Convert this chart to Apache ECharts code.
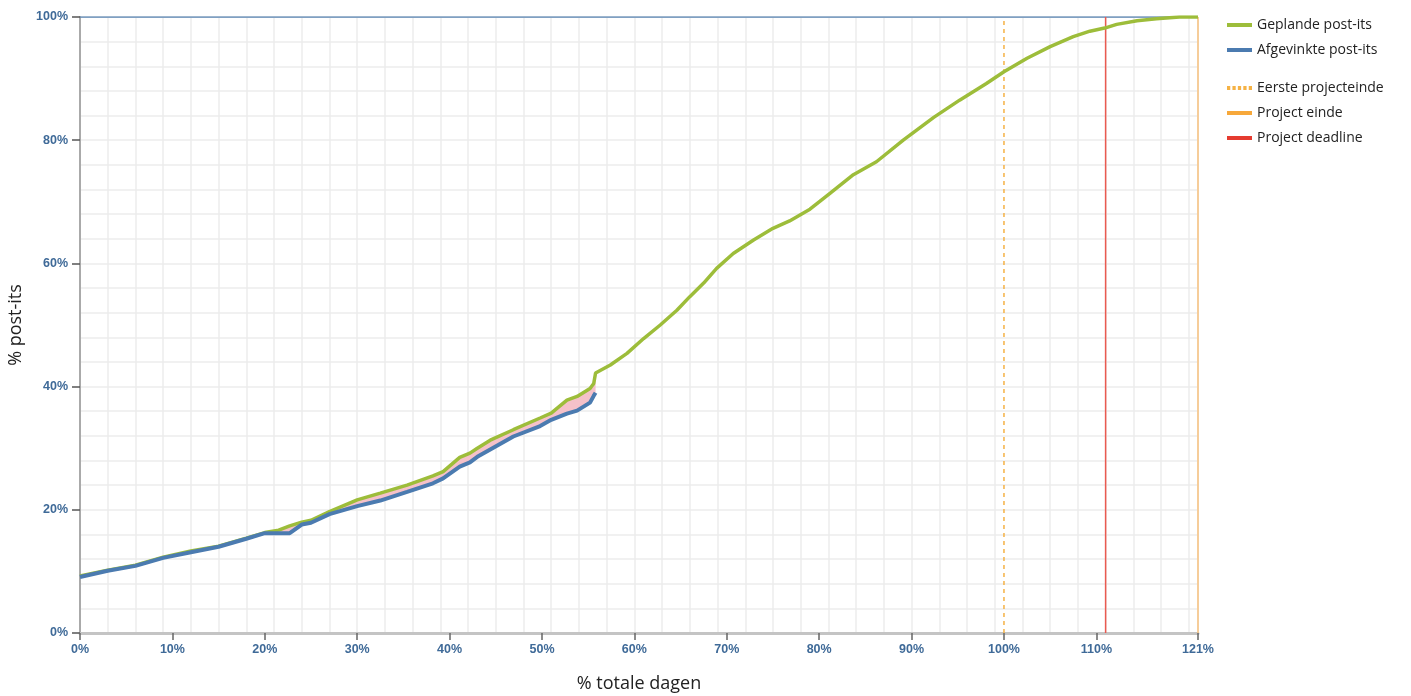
<!DOCTYPE html>
<html>
<head>
<meta charset="utf-8">
<script src="https://cdn.jsdelivr.net/npm/echarts@6/dist/echarts.min.js"></script>
<style>
html,body{margin:0;padding:0;background:#fff;}
#c{width:1411px;height:696px;}
</style>
</head>
<body>
<div id="c"></div>
<script>
// % of total days (x) shared by planned/done where both exist
const daysPct = [0,3,6,9,12,15,18,20,21.5,22.7,24,25,27,30,32.5,35.4,38.2,39.3,41.1,42.2,43,44.4,46.9,49.8,51,52.7,53.8,55.2,55.6,55.8,
  57.4,59.2,61.0,62.8,64.6,66.0,67.5,68.9,70.7,72.9,75.0,76.8,79.0,81.2,83.7,86.2,89.1,92.4,95.2,98.1,100,102.5,105.0,107.5,109.3,110.9,112.2,114.4,116.5,119.0,121];
const plannedPct = [9.25,10.2,11.0,12.3,13.3,14.1,15.4,16.3,16.7,17.4,18.0,18.3,19.7,21.6,22.7,24.0,25.5,26.2,28.5,29.2,30.0,31.3,33.0,34.9,35.7,37.8,38.4,39.7,40.5,42.2,
  43.5,45.4,47.8,50.0,52.4,54.6,56.8,59.2,61.6,63.8,65.7,66.9,68.8,71.4,74.4,76.5,80.0,83.7,86.5,89.2,91.1,93.3,95.2,96.8,97.7,98.2,98.8,99.4,99.7,100,100];
const donePct = [9.1,10.1,10.9,12.2,13.1,14.0,15.3,16.2,16.2,16.2,17.6,17.9,19.3,20.6,21.5,22.9,24.3,25.1,27.0,27.7,28.6,29.8,31.9,33.6,34.6,35.6,36.1,37.4,38.5,39.0];

const firstEndPct = 100;   // Eerste projecteinde
const deadlinePct = 111;   // Project deadline
const endPct = 121;        // Project einde

const xTickValues = [0,10,20,30,40,50,60,70,80,90,100,110,121];
const yTickValues = [0,20,40,60,80,100];

const plannedData = daysPct.map((x,i)=>[x, plannedPct[i]]);
const doneData = donePct.map((v,i)=>[daysPct[i], v]);
const vline = x => [[x,0],[x,100]];

const labelColor = '#3f6a98';
const legendText = {fontFamily:'Open Sans',fontSize:14,color:'#222'};
const barIcon = 'path://M0,0h25v4h-25z';
const dotIcon = 'path://M0,0h3v4h-3zM5,0h3v4h-3zM10,0h3v4h-3zM15,0h3v4h-3zM20,0h3v4h-3z';

const chart = echarts.init(document.getElementById('c'));
chart.setOption({
  animation:false,
  grid:{left:80,right:213,top:17,bottom:63,outerBoundsMode:'none',containLabel:false},
  legend:[{
    orient:'vertical', left:1222, top:13, itemWidth:25, itemHeight:4, itemGap:11,
    symbolKeepAspect:false, textStyle:legendText,
    data:[{name:'Geplande post-its',icon:barIcon},{name:'Afgevinkte post-its',icon:barIcon}]
  },{
    orient:'vertical', left:1222, top:76, itemWidth:25, itemHeight:4, itemGap:11,
    symbolKeepAspect:false, textStyle:legendText,
    data:[
      {name:'Eerste projecteinde',icon:dotIcon},
      {name:'Project einde',icon:barIcon},
      {name:'Project deadline',icon:barIcon}
    ]
  }],
  xAxis:[{
    type:'value', min:0, max:121, interval:3,
    name:'% totale dagen', nameLocation:'middle', nameGap:42,
    nameTextStyle:{fontFamily:'Open Sans',fontSize:18,color:'#222'},
    axisLine:{show:true,lineStyle:{color:'#c4c4c4',width:3}},
    axisTick:{show:true,customValues:xTickValues,length:7,lineStyle:{color:'#666',width:1.5}},
    axisLabel:{customValues:xTickValues,formatter:'{value}%',color:labelColor,fontSize:12.5,fontWeight:'bold',fontFamily:'Liberation Sans',margin:10},
    splitLine:{show:false}
  },{
    type:'value', min:0, max:121, interval:3, position:'top',
    axisLine:{show:false}, axisTick:{show:false}, axisLabel:{show:false},
    splitLine:{show:true,lineStyle:{color:'#ececec',width:1.5}}
  }],
  yAxis:[{
    type:'value', min:0, max:100, interval:4,
    name:'% post-its', nameLocation:'middle', nameGap:51, nameRotate:90,
    nameTextStyle:{fontFamily:'Open Sans',fontSize:18,color:'#222'},
    axisLine:{show:true,lineStyle:{color:'#aaa',width:2}},
    axisTick:{show:true,customValues:yTickValues,length:8,lineStyle:{color:'#555',width:1.5}},
    axisLabel:{customValues:yTickValues,formatter:'{value}%',color:labelColor,fontSize:12.5,fontWeight:'bold',fontFamily:'Liberation Sans',margin:12},
    splitLine:{show:false}
  },{
    type:'value', min:0, max:100, interval:4, position:'right',
    axisLine:{show:false}, axisTick:{show:false}, axisLabel:{show:false},
    splitLine:{show:true,lineStyle:{color:'#ececec',width:1.5}}
  }],
  series:[
    {name:'_gap',type:'custom',silent:true,z:1,data:[0],
      renderItem:function(params,api){
        const pts=[];
        for(let i=0;i<donePct.length;i++) pts.push(api.coord([daysPct[i],plannedPct[i]]));
        for(let i=donePct.length-1;i>=0;i--) pts.push(api.coord([daysPct[i],donePct[i]]));
        return {type:'polygon',shape:{points:pts},style:{fill:'#f5c1c9'}};
      }},
    {name:'_top',type:'line',data:[[0,100],[121,100]],symbol:'none',lineStyle:{color:'#5b86b3',width:1.5},silent:true,z:2},
    {name:'Eerste projecteinde',type:'line',data:vline(firstEndPct),symbol:'none',color:'#f5b245',lineStyle:{color:'#f5b245',width:1.5,type:[4,4]},z:2},
    {name:'Project einde',type:'line',data:vline(endPct),symbol:'none',color:'#f7a83a',lineStyle:{color:'#f9c27e',width:1.5},z:2},
    {name:'Project deadline',type:'line',data:vline(deadlinePct),symbol:'none',color:'#e53b30',lineStyle:{color:'#ea5a50',width:1.5},z:2},
    {name:'Geplande post-its',type:'line',data:plannedData,symbol:'none',color:'#9dbd3a',lineStyle:{color:'#9dbd3a',width:3.5},z:3},
    {name:'Afgevinkte post-its',type:'line',data:doneData,symbol:'none',color:'#4b7bb0',lineStyle:{color:'#4b7bb0',width:4},z:4}
  ]
});
</script>
</body>
</html>
